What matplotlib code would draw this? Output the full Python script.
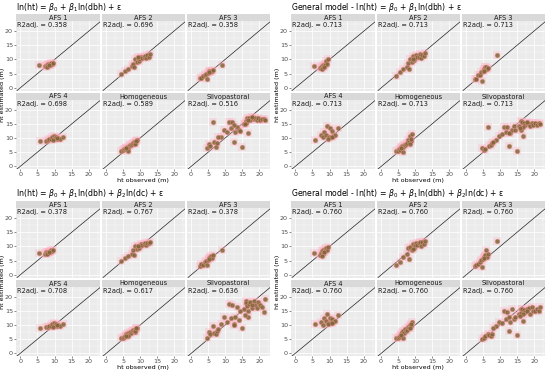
import numpy as np
import matplotlib
matplotlib.use("Agg")
import matplotlib.pyplot as plt

# facets and shared observed heights
facets = ["AFS 1", "AFS 2", "AFS 3", "AFS 4", "Homogeneous", "Silvopastoral"]

obs_afs1 = [5.6, 7.2, 7.6, 7.8, 8.0, 8.2, 8.4, 8.6, 8.8, 9.0, 9.2, 9.5, 7.9, 8.3]
obs_afs2 = [4.5, 5.5, 6.5, 7.5, 8.0, 8.3, 8.6, 9.0, 9.3, 9.7, 10.0, 10.3, 10.6, 11.0,
            11.3, 11.6, 12.0, 12.5, 13.0, 9.5]
obs_afs3 = [2.5, 2.8, 3.5, 4.0, 4.5, 4.8, 5.0, 5.2, 5.5, 5.7, 6.0, 6.2, 6.5, 5.3, 9.0]
obs_afs4 = [5.8, 7.5, 8.0, 8.5, 9.0, 9.3, 9.7, 10.0, 10.3, 10.6, 11.0, 11.5, 12.5, 9.5, 10.8]
obs_homo = [4.5, 5.0, 5.3, 5.7, 6.0, 6.2, 6.5, 6.8, 7.0, 7.3, 7.6, 8.0, 8.3, 8.6, 8.9,
            9.2, 6.3, 8.4, 5.8, 8.8]
obs_silvo = [4.8, 5.2, 5.5, 6.3, 6.8, 7.2, 7.7, 8.7, 9.7, 10.5, 11.0, 11.6, 12.0, 12.6,
             13.0, 13.5, 14.0, 14.5, 15.0, 15.5, 16.0, 16.2, 16.4, 16.8, 17.0, 17.4,
             17.9, 18.4, 18.8, 19.3, 19.8, 20.3, 20.8, 21.3, 21.8, 16.6, 15.8, 12.5, 8.0, 18.0]

# model 1: ln(ht) = b0 + b1 ln(dbh)
m1_afs1 = [8.0, 7.6, 7.8, 8.2, 7.9, 8.3, 8.0, 8.5, 8.2, 8.7, 8.4, 8.8, 7.5, 8.1]
m1_afs2 = [5.0, 5.8, 6.8, 7.6, 8.5, 7.2, 10.0, 9.0, 10.5, 9.5, 10.2, 11.0, 10.4, 10.8,
           11.2, 10.6, 11.4, 11.0, 11.8, 10.8]
m1_afs3 = [3.4, 3.6, 4.2, 4.6, 5.0, 3.0, 5.3, 5.8, 5.6, 6.0, 6.1, 5.8, 6.2, 5.5, 8.0]
m1_afs4 = [8.8, 9.0, 9.3, 9.5, 9.6, 10.2, 10.6, 9.9, 10.4, 9.7, 10.1, 9.8, 10.5, 9.2, 10.0]
m1_homo = [5.5, 5.7, 6.0, 6.1, 6.4, 7.0, 6.6, 7.2, 7.4, 7.6, 8.0, 8.4, 8.6, 8.2, 9.0,
           9.3, 5.5, 7.8, 6.6, 8.8]
m1_silvo = [6.5, 8.0, 7.2, 15.8, 8.5, 7.0, 8.2, 10.5, 13.0, 12.0, 15.6, 13.5, 15.7, 8.5,
            12.0, 14.0, 13.0, 12.5, 6.7, 15.0, 16.0, 15.2, 17.0, 11.8, 17.0, 16.5, 17.3,
            16.8, 17.0, 16.2, 17.2, 16.5, 16.8, 16.6, 16.4, 16.3, 14.8, 14.5, 10.2, 17.5]

# model 2: general model, ln(dbh)
m2_afs1 = [7.6, 7.0, 7.3, 7.8, 7.2, 8.0, 7.6, 8.5, 7.9, 9.5, 8.3, 10.2, 6.8, 7.5]
m2_afs2 = [4.3, 5.5, 6.8, 7.5, 8.6, 6.5, 10.0, 9.0, 11.2, 9.8, 10.5, 11.4, 10.8, 11.0,
           11.8, 10.6, 11.6, 11.3, 12.4, 10.0]
m2_afs3 = [3.0, 3.3, 4.4, 4.6, 5.6, 2.5, 6.0, 6.5, 6.8, 7.2, 7.5, 6.6, 7.0, 6.0, 11.5]
m2_afs4 = [9.2, 11.0, 10.2, 12.0, 11.0, 14.2, 10.5, 13.4, 10.4, 12.4, 10.6, 11.2, 13.6, 9.8, 10.2]
m2_homo = [5.4, 5.6, 6.0, 5.8, 6.8, 7.2, 7.0, 7.5, 7.4, 7.8, 8.2, 9.2, 8.6, 10.8, 9.0,
           11.4, 5.0, 8.0, 6.5, 9.6]
m2_silvo = [6.5, 5.9, 6.3, 14.0, 7.1, 7.4, 8.2, 9.4, 10.6, 11.5, 13.9, 12.2, 14.0, 7.1,
            11.8, 13.0, 14.1, 12.9, 5.3, 14.1, 15.9, 13.0, 15.5, 10.6, 15.3, 14.6, 15.3,
            15.0, 14.1, 15.3, 14.7, 15.2, 14.7, 15.3, 14.8, 14.0, 13.5, 11.8, 8.6, 15.6]

# model 3: ln(dbh) + ln(dc)
m3_afs1 = [7.7, 7.4, 7.9, 8.1, 7.8, 8.2, 7.9, 8.4, 8.1, 8.6, 8.3, 8.9, 7.2, 8.0]
m3_afs2 = [4.8, 6.0, 6.8, 7.5, 8.8, 7.0, 10.0, 9.2, 10.3, 9.6, 10.0, 11.0, 10.5, 10.8,
           11.2, 10.6, 11.1, 11.3, 11.6, 10.2]
m3_afs3 = [3.2, 3.8, 3.6, 4.5, 5.0, 3.6, 5.2, 5.8, 6.0, 6.3, 6.6, 5.8, 7.0, 5.5, 8.8]
m3_afs4 = [9.0, 9.2, 9.4, 9.6, 9.8, 10.3, 10.6, 9.9, 10.4, 9.6, 10.0, 9.7, 10.5, 9.3, 10.1]
m3_homo = [5.6, 5.4, 5.8, 6.0, 6.8, 6.6, 7.2, 6.8, 7.4, 7.2, 8.0, 8.4, 8.0, 7.5, 8.6,
           9.0, 6.0, 7.8, 6.2, 8.8]
m3_silvo = [5.5, 7.5, 6.8, 9.5, 7.2, 7.0, 7.8, 10.5, 13.0, 11.0, 17.5, 12.5, 17.2, 10.5,
            13.0, 16.5, 11.8, 14.8, 9.0, 15.5, 18.5, 17.8, 16.8, 13.0, 17.5, 18.2, 16.0,
            18.5, 17.0, 16.0, 18.0, 17.2, 16.2, 14.5, 19.0, 14.8, 13.5, 10.0, 8.5, 17.0]

# model 4: general model, ln(dbh) + ln(dc)
m4_afs1 = [7.6, 7.0, 7.8, 8.3, 7.5, 8.6, 8.0, 9.0, 8.4, 9.6, 8.8, 9.8, 6.8, 8.2]
m4_afs2 = [3.6, 4.6, 6.2, 7.2, 9.4, 5.6, 9.8, 8.8, 11.0, 9.4, 10.4, 11.2, 10.6, 11.1,
           11.6, 10.2, 11.4, 11.0, 11.8, 9.2]
m4_afs3 = [3.0, 3.4, 4.0, 4.5, 5.2, 2.8, 5.5, 6.2, 6.6, 7.0, 8.8, 6.2, 7.4, 6.0, 12.0]
m4_afs4 = [10.2, 11.2, 10.0, 12.6, 11.4, 13.8, 10.6, 12.6, 10.8, 12.0, 11.0, 11.4, 13.6, 10.4, 10.8]
m4_homo = [5.4, 5.5, 5.8, 6.2, 7.0, 7.6, 8.0, 7.2, 8.6, 7.8, 8.4, 9.4, 9.0, 10.0, 9.6,
           11.0, 5.6, 8.8, 6.6, 10.2]
m4_silvo = [5.2, 5.5, 6.0, 7.0, 6.5, 6.2, 7.0, 9.5, 11.0, 10.8, 15.0, 12.2, 14.5, 8.0,
            11.0, 15.5, 12.0, 12.8, 6.5, 14.0, 15.8, 14.2, 15.5, 11.5, 15.2, 14.5, 15.8,
            16.0, 14.0, 16.2, 15.0, 14.8, 15.5, 15.0, 16.2, 13.8, 13.2, 12.8, 9.0, 15.0]

r2_m1 = [0.358, 0.696, 0.358, 0.698, 0.589, 0.516]
r2_m2 = [0.713] * 6
r2_m3 = [0.378, 0.767, 0.378, 0.708, 0.617, 0.636]
r2_m4 = [0.760] * 6

titles = [
    r"ln(ht) = $\beta_0$ + $\beta_1$ln(dbh) + ε",
    r"General model - ln(ht) = $\beta_0$ + $\beta_1$ln(dbh) + ε",
    r"ln(ht) = $\beta_0$ + $\beta_1$ln(dbh) + $\beta_2$ln(dc) + ε",
    r"General model - ln(ht) = $\beta_0$ + $\beta_1$ln(dbh) + $\beta_2$ln(dc) + ε",
]

observed = [obs_afs1, obs_afs2, obs_afs3, obs_afs4, obs_homo, obs_silvo]
estimated = [
    [m1_afs1, m1_afs2, m1_afs3, m1_afs4, m1_homo, m1_silvo],
    [m2_afs1, m2_afs2, m2_afs3, m2_afs4, m2_homo, m2_silvo],
    [m3_afs1, m3_afs2, m3_afs3, m3_afs4, m3_homo, m3_silvo],
    [m4_afs1, m4_afs2, m4_afs3, m4_afs4, m4_homo, m4_silvo],
]
r2 = [r2_m1, r2_m2, r2_m3, r2_m4]

W, H = 550, 374
fig = plt.figure(figsize=(W / 100, H / 100), dpi=100)
fig.patch.set_facecolor("white")


def px_axes(x0, y0, x1, y1):
    return fig.add_axes([x0 / W, 1 - y1 / H, (x1 - x0) / W, (y1 - y0) / H])


col_x = [(16, 100), (102, 185), (187, 270)]
row_y = [(14, 21.3, 90.5), (93, 100, 169)]
offsets = [(0, 0), (275, 0), (0, 187), (275, 187)]

for m, (ox, oy) in enumerate(offsets):
    fig.text((ox + 16) / W, 1 - (oy + 7) / H, titles[m], fontsize=5.6,
             ha="left", va="center", color="black")
    for k, name in enumerate(facets):
        r, c = divmod(k, 3)
        x0, x1 = col_x[c]
        s0, s1, p1 = row_y[r]
        # strip
        st = px_axes(ox + x0, oy + s0, ox + x1, oy + s1)
        st.set_facecolor("#D9D9D9")
        st.set_xticks([])
        st.set_yticks([])
        for sp in st.spines.values():
            sp.set_visible(False)
        st.text(0.5, 0.5, name, transform=st.transAxes, ha="center", va="center",
                fontsize=4.8, color="#1A1A1A")
        # panel
        ax = px_axes(ox + x0, oy + s1, ox + x1, oy + p1)
        ax.set_facecolor("#EBEBEB")
        for sp in ax.spines.values():
            sp.set_visible(False)
        ax.set_xlim(-1.2, 23.2)
        ax.set_ylim(-0.9, 23.4)
        ax.set_xticks([0, 5, 10, 15, 20])
        ax.set_yticks([0, 5, 10, 15, 20])
        ax.set_xticks([2.5, 7.5, 12.5, 17.5, 22.5], minor=True)
        ax.set_yticks([2.5, 7.5, 12.5, 17.5, 22.5], minor=True)
        ax.grid(True, which="major", color="white", lw=0.55)
        ax.grid(True, which="minor", color="white", lw=0.25)
        ax.set_axisbelow(True)
        ax.tick_params(which="minor", length=0)
        ax.tick_params(which="major", length=1.4, width=0.4, color="#333333",
                       labelsize=4.6, labelcolor="#4D4D4D", pad=0.8)
        if c != 0:
            ax.tick_params(axis="y", labelleft=False, length=0)
        if r != 1:
            ax.tick_params(axis="x", labelbottom=False, length=0)
        ax.axline((0, 0), slope=1, color="#222222", lw=0.5, zorder=2)
        xs = observed[k]
        ys = estimated[m][k]
        ax.scatter(xs, ys, s=36, marker="s", color="#FFB0C4", alpha=0.3,
                   lw=0, zorder=2.5)
        ax.scatter(xs, ys, s=12, facecolor="#7E6636", edgecolor="#F09A9A",
                   lw=0.35, alpha=0.85, zorder=3)
        ax.text(0.01, 0.985, f"R2adj. = {r2[m][k]:.3f}", transform=ax.transAxes,
                ha="left", va="top", fontsize=4.8, color="#1A1A1A")
    fig.text((ox + 143) / W, 1 - (oy + 181) / H, "ht observed (m)", fontsize=4.6,
             ha="center", va="center", color="black")
    fig.text((ox + 3) / W, 1 - (oy + 95) / H, "ht estimated (m)", fontsize=4.6,
             ha="center", va="center", rotation=90, color="black")

fig.savefig("out.png", dpi=100)
